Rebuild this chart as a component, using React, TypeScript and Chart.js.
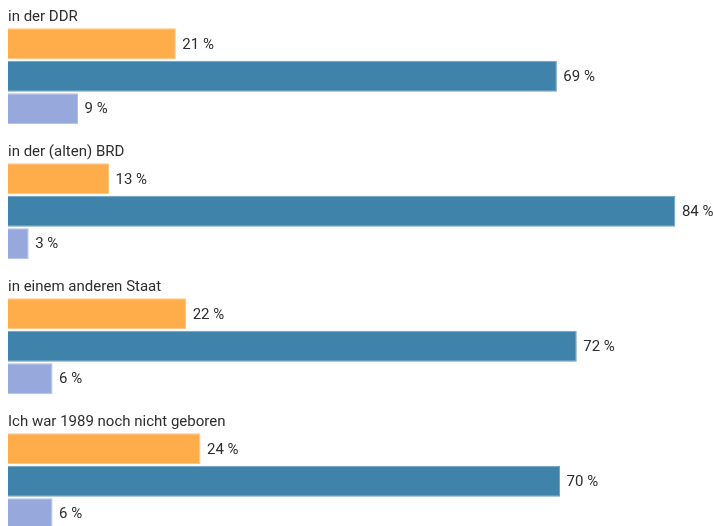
import React, { useEffect, useRef } from "react";
import { Chart, registerables } from "chart.js";

Chart.register(...registerables);

const groups = [
  "in der DDR",
  "in der (alten) BRD",
  "in einem anderen Staat",
  "Ich war 1989 noch nicht geboren",
];
const seriesNames = ["A", "B", "C"];
// bar lengths (percent)
const orangeValues = [21.1, 12.7, 22.4, 24.2];
const blueValues = [69.0, 83.9, 71.5, 69.4];
const purpleValues = [8.8, 2.6, 5.6, 5.6];
// printed labels
const orangeLabels = ["21 %", "13 %", "22 %", "24 %"];
const blueLabels = ["69 %", "84 %", "72 %", "70 %"];
const purpleLabels = ["9 %", "3 %", "6 %", "6 %"];
const colors = ["#FFAD4B", "#3F83AB", "#97A8DD"];
const borderColors = ["#FFC47E", "#6E9FBF", "#B3BFE6"];

const FONT = "15px Roboto, 'Noto Sans', sans-serif";
const TEXT = "#2e2e2e";
const allLabels = [orangeLabels, blueLabels, purpleLabels];

const labelPlugin = {
  id: "labels",
  afterDatasetsDraw(chart: any) {
    const ctx = chart.ctx;
    ctx.save();
    ctx.font = FONT;
    ctx.fillStyle = TEXT;
    chart.data.datasets.forEach((ds: any, di: number) => {
      const meta = chart.getDatasetMeta(di);
      meta.data.forEach((bar: any, i: number) => {
        ctx.textAlign = "left";
        ctx.textBaseline = "middle";
        ctx.fillText(allLabels[di][i], bar.x + 6.5, bar.y + 1);
      });
    });
    const meta0 = chart.getDatasetMeta(0);
    meta0.data.forEach((bar: any, i: number) => {
      const top = bar.y - bar.height / 2;
      ctx.textAlign = "left";
      ctx.textBaseline = "alphabetic";
      ctx.fillText(groups[i], chart.chartArea.left, top - 7.5);
    });
    ctx.restore();
  },
};

export default function App() {
  const ref = useRef<HTMLCanvasElement>(null);
  useEffect(() => {
    if (!ref.current) return;
    const chart = new Chart(ref.current, {
      type: "bar",
      data: {
        labels: groups,
        datasets: [orangeValues, blueValues, purpleValues].map((d, i) => ({
          label: seriesNames[i],
          data: d,
          backgroundColor: colors[i],
          borderColor: borderColors[i],
          borderWidth: 1,
          categoryPercentage: 0.722,
          barPercentage: 0.95,
        })),
      },
      options: {
        indexAxis: "y",
        animation: false,
        responsive: false,
        maintainAspectRatio: false,
        layout: { padding: { left: 8, right: 5, top: 8.75, bottom: 11.25 } },
        plugins: { legend: { display: false }, tooltip: { enabled: false } },
        scales: {
          x: { display: false, min: 0, max: 88 },
          y: { display: false },
        },
      },
      plugins: [labelPlugin],
    });
    return () => chart.destroy();
  }, []);
  return (
    <div
      style={{
        position: "fixed",
        left: 0,
        top: 0,
        width: 713,
        height: 526,
        overflow: "hidden",
        background: "#fff",
      }}
    >
      <canvas ref={ref} width={713} height={560} style={{ width: 713, height: 560, display: "block" }} />
    </div>
  );
}
